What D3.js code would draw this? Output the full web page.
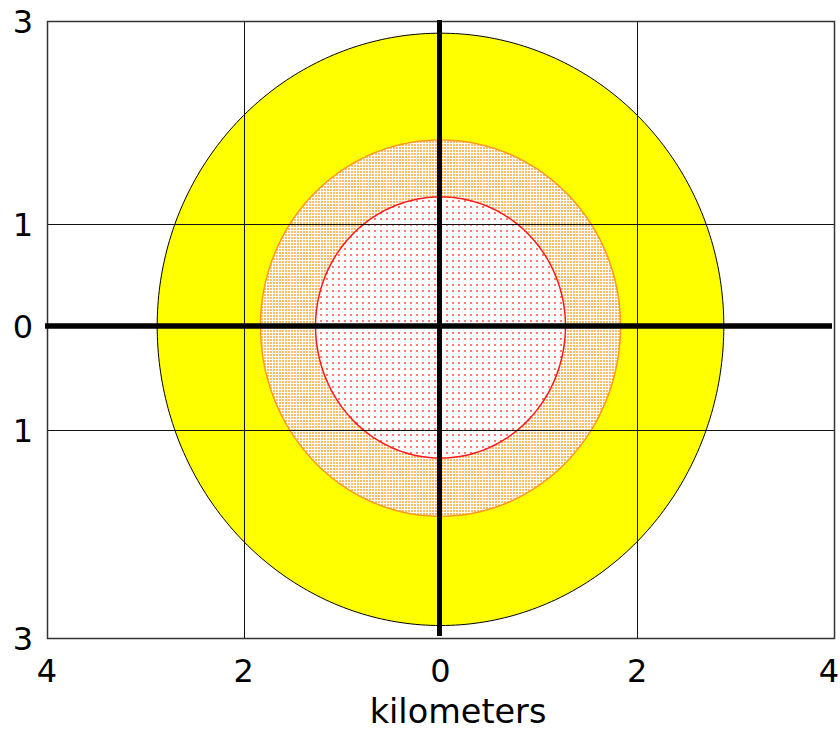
<!DOCTYPE html>
<html>
<head>
<meta charset="utf-8">
<script src="https://cdn.jsdelivr.net/npm/d3@7"></script>
<style>
  html, body { margin: 0; padding: 0; background: #fff; }
  svg { display: block; }
  text { font-family: "DejaVu Sans", Verdana, sans-serif; fill: #000; }
</style>
</head>
<body>
<svg id="chart" width="840" height="732"></svg>
<script>
// ---- data ----
const xTickValues = [-4, -2, 0, 2, 4];
const xTickLabels = ["4", "2", "0", "2", "4"];
const yTickValues = [3, 1, 0, -1, -3];
const yTickLabels = ["3", "1", "0", "1", "3"];
const zoneNames = ["outer", "middle", "inner"];
const zoneRadii = [2.88, 1.83, 1.27];   // kilometers
const xTitle = "kilometers";

// ---- layout ----
const svg = d3.select("#chart");
const pL = 47, pR = 834, pT = 21, pB = 638;

const x = d3.scaleLinear().domain([-4, 4]).range([pL, pR]);
const y = d3.scaleLinear().domain([-3, 0, 3]).range([pB, 326, pT]);

// ---- patterns ----
const defs = svg.append("defs");
const pMid = defs.append("pattern").attr("id", "pMid")
  .attr("patternUnits", "userSpaceOnUse").attr("width", 3).attr("height", 3);
pMid.append("rect").attr("width", 3).attr("height", 3).attr("fill", "#fff");
pMid.append("rect").attr("width", 2).attr("height", 2).attr("fill", "#ffbb66");

const pIn = defs.append("pattern").attr("id", "pIn")
  .attr("patternUnits", "userSpaceOnUse").attr("width", 6).attr("height", 6);
pIn.append("rect").attr("width", 6).attr("height", 6).attr("fill", "#fff");
pIn.append("rect").attr("x", 2).attr("y", 2).attr("width", 2).attr("height", 2).attr("fill", "#ff7a7a");

const zoneStyle = {
  outer:  { fill: "#ffff00", stroke: "#000", sw: 1 },
  middle: { fill: "url(#pMid)", stroke: "#ff9a1a", sw: 1.5 },
  inner:  { fill: "url(#pIn)", stroke: "#ff1a1a", sw: 1.5 }
};

// ---- circles drawn through the scales ----
const angles = d3.range(0, 361, 1).map(d => d * Math.PI / 180);
const line = d3.line().x(d => x(d[0])).y(d => y(d[1]));
zoneNames.forEach((name, i) => {
  const r = zoneRadii[i];
  const pts = angles.map(a => [r * Math.cos(a), r * Math.sin(a)]);
  const st = zoneStyle[name];
  svg.append("path")
    .attr("d", line(pts) + "Z")
    .attr("fill", st.fill)
    .attr("stroke", st.stroke)
    .attr("stroke-width", st.sw);
});

// ---- grid lines ----
const grid = svg.append("g").attr("stroke", "#111").attr("stroke-width", 1);
xTickValues.filter(v => v !== 0).forEach(v => {
  grid.append("line").attr("x1", Math.round(x(v)) + 0.5).attr("x2", Math.round(x(v)) + 0.5)
    .attr("y1", pT).attr("y2", pB);
});
yTickValues.filter(v => v !== 0).forEach(v => {
  grid.append("line").attr("y1", Math.round(y(v)) + 0.5).attr("y2", Math.round(y(v)) + 0.5)
    .attr("x1", pL).attr("x2", pR);
});

// ---- frame ----
svg.append("rect")
  .attr("x", pL + 0.5).attr("y", pT + 0.5)
  .attr("width", pR - pL).attr("height", pB - pT)
  .attr("fill", "none").attr("stroke", "#333").attr("stroke-width", 1.5);

// ---- thick zero axes ----
svg.append("line")
  .attr("x1", pL - 2).attr("x2", pR - 2)
  .attr("y1", y(0)).attr("y2", y(0))
  .attr("stroke", "#000").attr("stroke-width", 5.5);
svg.append("line")
  .attr("x1", x(0) - 1).attr("x2", x(0) - 1)
  .attr("y1", pT - 1).attr("y2", pB - 2)
  .attr("stroke", "#000").attr("stroke-width", 5);

// ---- tick labels ----
const fs = 32;
const lastX = xTickValues.length - 1;
svg.append("g").selectAll("text").data(xTickValues).join("text")
  .attr("x", (d, i) => i === lastX ? 839 : x(d))
  .attr("y", pB + 44)
  .attr("text-anchor", (d, i) => i === lastX ? "end" : "middle")
  .attr("font-size", fs)
  .text((d, i) => xTickLabels[i]);

svg.append("g").selectAll("text").data(yTickValues).join("text")
  .attr("x", pL - 14)
  .attr("y", d => y(d))
  .attr("dy", "0.36em")
  .attr("text-anchor", "end")
  .attr("font-size", fs)
  .text((d, i) => yTickLabels[i]);

svg.append("text")
  .attr("x", 458).attr("y", 723)
  .attr("text-anchor", "middle")
  .attr("font-size", 33.5)
  .text(xTitle);
</script>
</body>
</html>
